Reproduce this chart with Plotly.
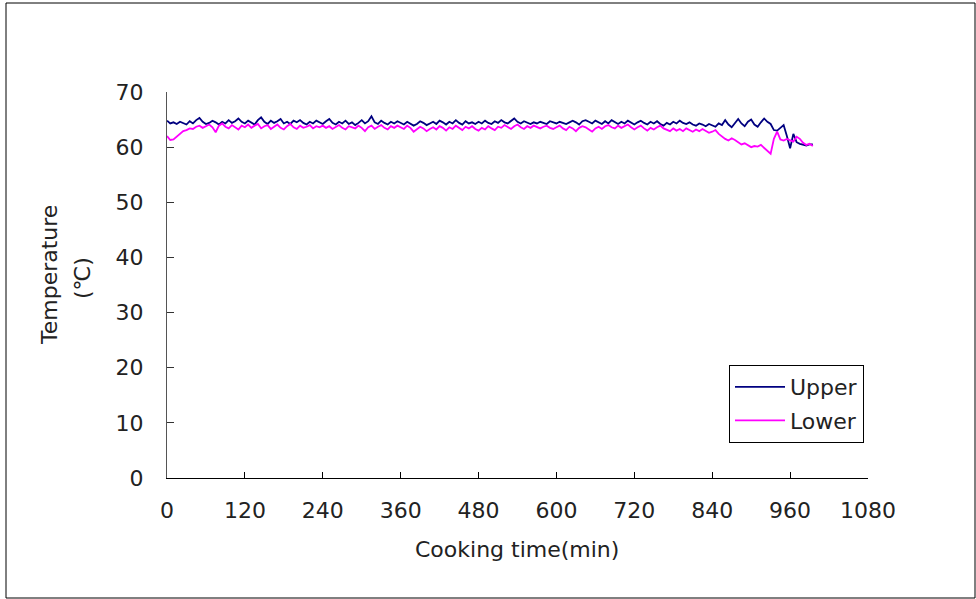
import plotly.graph_objects as go

time_min = list(range(0, 1000, 5))

upper = [
    64.8,64.3,64.5,64.2,64.6,64.4,64.1,64.7,64.3,64.9,65.3,64.6,64.2,64.4,64.8,64.5,64.1,64.6,64.3,64.9,64.4,64.7,65.2,64.6,
    64.3,64.8,64.5,64.1,64.9,65.4,64.6,64.2,64.8,64.4,64.7,65.1,64.3,64.6,64.2,64.8,64.5,64.9,64.4,64.1,64.6,64.3,64.8,64.5,
    64.2,64.7,65.1,64.4,64.1,64.6,64.3,64.8,64.2,64.5,64.0,64.4,64.9,64.3,64.7,65.6,64.5,64.2,64.8,64.4,64.1,64.6,64.3,64.7,
    64.4,64.1,64.6,64.3,63.9,64.2,64.7,64.4,64.0,64.3,64.6,64.2,64.8,64.5,64.1,64.6,64.3,64.9,64.4,64.1,64.7,64.3,64.5,64.2,
    64.6,64.3,64.8,64.4,64.2,64.7,64.4,64.9,64.5,64.3,64.8,65.2,64.6,64.3,64.7,64.4,64.2,64.5,64.3,64.6,64.4,64.2,64.7,64.5,
    64.3,64.6,64.4,64.2,64.5,64.8,64.5,64.1,64.7,64.9,64.6,64.3,64.8,64.5,64.2,64.7,64.3,64.9,64.5,64.2,64.6,64.3,64.8,64.4,
    64.1,64.5,64.8,64.4,64.1,64.6,64.3,64.7,64.2,63.9,64.4,64.1,64.6,64.3,64.8,64.4,64.2,64.5,64.1,63.9,64.3,64.1,63.8,64.2,
    64.0,63.7,64.3,64.0,64.9,64.1,63.6,64.4,65.1,64.3,63.8,64.6,65.0,64.1,63.7,64.5,65.2,64.6,64.2,63.1,63.0,63.5,64.0,62.0,
    59.8,62.4,60.9,60.6,60.4,60.3,60.5,60.5,
]

lower = [
    62.0,61.3,61.4,61.9,62.5,62.9,63.1,63.4,63.3,63.7,63.9,63.5,63.8,64.1,63.6,62.7,63.9,64.3,63.7,63.4,64.0,63.6,63.2,63.9,
    63.6,64.1,63.5,63.9,64.2,63.4,63.8,64.0,63.3,63.7,64.1,63.5,63.2,63.8,64.2,63.6,63.3,63.9,63.5,63.7,64.0,63.4,63.8,63.6,
    63.9,63.5,63.8,63.3,63.7,64.0,63.5,63.2,63.8,63.6,63.4,63.9,63.5,62.9,63.6,63.9,63.3,63.7,64.0,63.5,63.2,63.8,63.5,63.9,
    63.6,63.3,63.9,63.5,62.8,63.2,63.7,63.4,62.9,63.3,63.6,63.2,63.8,63.5,63.0,63.6,63.3,63.9,63.5,63.1,63.7,63.4,63.8,63.3,
    63.0,63.5,63.2,63.8,63.4,63.1,63.7,63.5,64.0,63.6,63.3,63.8,64.1,63.6,63.3,63.8,63.5,63.9,63.6,63.4,63.7,63.9,63.5,63.3,
    63.6,63.9,63.4,63.1,63.7,63.4,62.9,63.5,63.8,63.6,63.2,62.8,63.4,63.7,63.3,63.8,64.0,63.6,63.4,63.9,63.5,63.8,64.1,63.6,
    63.2,63.6,63.9,63.4,63.0,63.5,63.2,63.6,63.9,63.4,63.1,62.9,63.4,63.0,63.3,62.9,63.4,63.1,62.8,63.2,62.9,63.3,63.0,62.6,
    62.8,63.1,62.4,61.9,61.5,61.2,61.6,61.3,60.9,60.5,60.7,60.3,60.0,60.2,60.1,60.4,59.9,59.3,58.8,61.5,62.8,61.4,61.2,61.5,
    61.2,61.0,61.9,61.5,60.8,60.4,60.6,60.2,
]

x_ticks = [0, 120, 240, 360, 480, 600, 720, 840, 960, 1080]
y_ticks = [0, 10, 20, 30, 40, 50, 60, 70]

FONT = "DejaVu Sans, Noto Sans, sans-serif"
FS = 22

fig = go.Figure()
fig.add_trace(go.Scatter(x=time_min, y=upper, mode="lines", name="Upper", legendgroup="u",
                         line=dict(color="#000080", width=1.8)))
fig.add_trace(go.Scatter(x=time_min, y=lower, mode="lines", name="Lower", legendgroup="l",
                         line=dict(color="#FF00FF", width=1.8)))

L, R, T, B = 167, 868, 92, 478
W, H = 976, 599

def px_x(p):
    return (p - L) / (R - L)

def px_y(p):
    return (B - p) / (B - T)

annotations = [
    dict(text="Temperature", x=px_x(49), y=px_y(275), xref="paper", yref="paper",
         textangle=-90, showarrow=False, xanchor="center", yanchor="middle",
         font=dict(family=FONT, size=FS, color="#222")),
    dict(text="(℃)", x=px_x(82), y=px_y(278), xref="paper", yref="paper",
         textangle=-90, showarrow=False, xanchor="center", yanchor="middle",
         font=dict(family=FONT, size=FS, color="#222")),
    dict(text="Cooking time(min)", x=px_x(517), y=px_y(549), xref="paper", yref="paper",
         showarrow=False, xanchor="center", yanchor="middle",
         font=dict(family=FONT, size=FS, color="#222")),
]

fig.update_layout(
    width=W, height=H,
    margin=dict(l=L, r=W - R, t=T, b=H - B),
    paper_bgcolor="white", plot_bgcolor="white",
    font=dict(family=FONT, size=FS, color="#222"),
    showlegend=True,
    legend=dict(x=px_x(729), y=px_y(365), xanchor="left", yanchor="top",
                bordercolor="black", borderwidth=1, bgcolor="white",
                font=dict(size=FS), itemwidth=50, tracegroupgap=2),
    xaxis=dict(range=[0, 1080], tickvals=x_ticks, ticks="inside", ticklen=6,
               tickcolor="black", showline=True, linecolor="black", linewidth=1,
               showgrid=False, zeroline=False, ticklabelstandoff=13),
    yaxis=dict(range=[0, 70], tickvals=y_ticks, ticks="inside", ticklen=7,
               tickcolor="#333", showline=True, linecolor="#555", linewidth=1,
               showgrid=False, zeroline=False, ticklabelstandoff=18),
    annotations=annotations,
    shapes=[dict(type="rect", xref="paper", yref="paper",
                 x0=px_x(6), x1=px_x(975), y0=px_y(598), y1=px_y(3),
                 line=dict(color="black", width=1))],
)

fig.write_html("out.html")
